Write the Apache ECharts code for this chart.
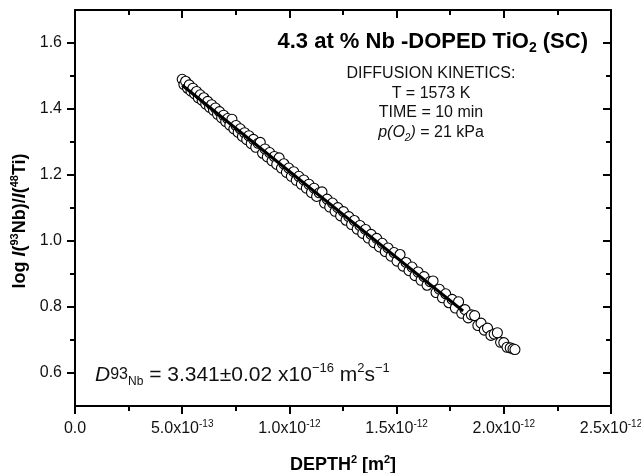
<!DOCTYPE html>
<html><head><meta charset="utf-8">
<script src="https://cdn.jsdelivr.net/npm/echarts@6/dist/echarts.min.js"></script>
<style>html,body{margin:0;padding:0;background:#fff}#c{width:641px;height:473px}</style>
</head><body><div id="c"></div>
<script>
// depth^2 in units of 1e-12 m^2
const depth2 = [0.500,0.508,0.516,0.525,0.533,0.541,0.550,0.558,0.567,0.575,0.584,0.593,0.601,0.610,0.619,0.628,0.637,
0.646,0.655,0.665,0.674,0.684,0.693,0.703,0.712,0.722,0.732,0.741,0.751,0.761,0.771,0.781,0.791,0.801,
0.811,0.822,0.832,0.843,0.854,0.864,0.875,0.886,0.897,0.908,0.919,0.930,0.941,0.952,0.963,0.974,0.986,0.997,
1.009,1.020,1.032,1.044,1.056,1.067,1.079,1.091,1.103,1.115,1.127,1.139,1.152,1.164,1.176,1.188,1.201,
1.213,1.226,1.239,1.252,1.264,1.277,1.290,1.303,1.316,1.329,1.342,1.355,1.368,1.381,1.394,1.407,1.420,1.433,
1.447,1.460,1.474,1.488,1.502,1.516,1.530,1.544,1.558,1.572,1.586,1.600,1.614,1.628,1.642,1.656,1.670,1.684,
1.699,1.714,1.729,1.744,1.759,1.774,1.789,1.804,1.819,1.834,1.849,1.864,1.879,1.894,1.909,1.924,1.940,1.955,
1.970,1.985,2.000,2.015,2.030,2.043,2.052];
const logRatio = [1.490,1.474,1.484,1.463,1.473,1.454,1.463,1.446,1.453,1.434,1.443,1.426,1.434,1.415,1.423,1.405,1.413,
1.396,1.403,1.384,1.392,1.373,1.381,1.362,1.371,1.351,1.369,1.340,1.350,1.329,1.340,1.317,1.328,1.307,
1.319,1.295,1.308,1.284,1.296,1.299,1.266,1.279,1.255,1.268,1.243,1.256,1.232,1.252,1.221,1.234,1.208,1.221,
1.196,1.210,1.184,1.196,1.172,1.185,1.160,1.172,1.147,1.160,1.135,1.146,1.149,1.115,1.127,1.103,1.115,
1.090,1.101,1.076,1.089,1.063,1.074,1.050,1.062,1.036,1.047,1.023,1.035,1.009,1.020,0.995,1.008,0.982,0.993,
0.968,0.979,0.954,0.965,0.939,0.959,0.924,0.935,0.910,0.921,0.895,0.906,0.881,0.892,0.866,0.877,0.879,0.844,
0.854,0.828,0.840,0.813,0.823,0.797,0.816,0.781,0.792,0.767,0.776,0.774,0.744,0.751,0.730,0.736,0.714,0.718,
0.722,0.693,0.692,0.678,0.676,0.673,0.671];
const fitDepth2 = [0.50, 1.81];
const fitLog = [1.472, 0.788];
const xTickValues = [0, 0.5, 1.0, 1.5, 2.0, 2.5];
const xTickMantissa = ['0.0','5.0x10','1.0x10','1.5x10','2.0x10','2.5x10'];
const xTickExponent = ['','-13','-12','-12','-12','-12'];
const yMajorTicks = [0.6,0.8,1.0,1.2,1.4,1.6];
const yMinorTicks = [0.7,0.9,1.1,1.3,1.5];

const FONT = 'Liberation Sans, Arial, sans-serif';
const chart = echarts.init(document.getElementById('c'));

const axisLineStyle = {color:'#000', width:2};
function xAxisCfg(pos){
  const top = pos === 'top';
  return {
    type:'value', position:pos, min:0, max:2.5, interval:0.5,
    axisLine:{show:true, onZero:false, lineStyle:axisLineStyle},
    axisTick:{show:true, inside:top, length:8, lineStyle:{color:'#000', width:2}},
    minorTick:{show:true, splitNumber:2, length:5, lineStyle:{color:'#000', width:2}},
    splitLine:{show:false}, minorSplitLine:{show:false},
    axisLabel: top ? {show:false} : {
      show:true, margin:13,
      formatter:function(v){
        const i = xTickValues.findIndex(t => Math.abs(t - v) < 1e-9);
        if (i < 0) return '';
        return xTickExponent[i] ? '{m|' + xTickMantissa[i] + '}{s|' + xTickExponent[i] + '}' : '{m|' + xTickMantissa[i] + '}';
      },
      rich:{
        m:{fontFamily:FONT, fontSize:16, lineHeight:20, color:'#111'},
        s:{fontFamily:FONT, fontSize:10, lineHeight:12, verticalAlign:'top', color:'#111'}
      }
    },
    name: top ? '' : '{b|DEPTH}{s|2}{b| [m}{s|2}{b|]}',
    nameLocation:'middle', nameGap:48,
    nameTextStyle:{rich:{
      b:{fontFamily:FONT, fontSize:18, fontWeight:'bold', lineHeight:22, color:'#000'},
      s:{fontFamily:FONT, fontSize:11, fontWeight:'bold', lineHeight:12, verticalAlign:'top', color:'#000'}
    }}
  };
}
function yAxisCfg(pos, ticks, len, showLine, showLabel){
  return {
    type:'value', position:pos, min:0.5, max:1.7, interval:0.1,
    axisLine:{show:showLine, onZero:false, lineStyle:axisLineStyle},
    axisTick:{show:true, inside:pos === 'right', length:len, customValues:ticks, lineStyle:{color:'#000', width:2}},
    splitLine:{show:false},
    axisLabel: showLabel ? {show:true, margin:13, customValues:yMajorTicks,
      formatter:function(v){ return v.toFixed(1); },
      fontFamily:FONT, fontSize:16, color:'#111'} : {show:false}
  };
}

const option = {
  backgroundColor:'#fff',
  animation:false,
  grid:{left:75, right:30, top:10, bottom:67, containLabel:false, outerBoundsMode:'none'},
  xAxis:[xAxisCfg('bottom'), xAxisCfg('top')],
  yAxis:[
    yAxisCfg('left', yMajorTicks, 8, true, true),
    yAxisCfg('left', yMinorTicks, 5, false, false),
    yAxisCfg('right', yMajorTicks, 8, true, false),
    yAxisCfg('right', yMinorTicks, 5, false, false)
  ],
  series:[
    {
      type:'scatter', xAxisIndex:0, yAxisIndex:0,
      data: depth2.map((x, i) => [x, logRatio[i]]),
      symbol:'circle', symbolSize:10,
      itemStyle:{color:'#fff', borderColor:'#000', borderWidth:1.1, opacity:1},
      z:2
    },
    {
      type:'line', xAxisIndex:0, yAxisIndex:0,
      data: fitDepth2.map((x, i) => [x, fitLog[i]]),
      showSymbol:false, symbol:'none',
      lineStyle:{color:'#000', width:3},
      z:3
    }
  ],
  graphic:[
    {type:'text', x:588, y:42, z:10, style:{
      text:'{b|4.3 at % Nb -DOPED TiO}{s|2}{b| (SC)}',
      align:'right', verticalAlign:'middle',
      rich:{
        b:{fontFamily:FONT, fontSize:22, fontWeight:'bold', lineHeight:26, fill:'#000', color:'#000'},
        s:{fontFamily:FONT, fontSize:14, fontWeight:'bold', lineHeight:8, verticalAlign:'bottom', fill:'#000', color:'#000'}
      }
    }},
    {type:'text', x:431, y:74, z:10, style:{text:'DIFFUSION KINETICS:', align:'center', verticalAlign:'middle', font:'16px ' + FONT, fill:'#111'}},
    {type:'text', x:431, y:94, z:10, style:{text:'T = 1573 K', align:'center', verticalAlign:'middle', font:'16px ' + FONT, fill:'#111'}},
    {type:'text', x:431, y:113, z:10, style:{text:'TIME = 10 min', align:'center', verticalAlign:'middle', font:'16px ' + FONT, fill:'#111'}},
    {type:'text', x:431, y:133, z:10, style:{
      text:'{i|p(O}{s|2}{i|)}{n| = 21 kPa}',
      align:'center', verticalAlign:'middle',
      rich:{
        i:{fontFamily:FONT, fontSize:16, fontStyle:'italic', lineHeight:20, fill:'#111', color:'#111'},
        n:{fontFamily:FONT, fontSize:16, lineHeight:20, fill:'#111', color:'#111'},
        s:{fontFamily:FONT, fontSize:10, fontStyle:'italic', lineHeight:10, verticalAlign:'bottom', fill:'#111', color:'#111'}
      }
    }},
    {type:'text', x:95, y:375, z:10, style:{
      text:'{d|D}{n|93}{sub|Nb}{m| = 3.341\u00b10.02 x10}{sup|\u221216}{m| m}{sup|2}{m|s}{sup|\u22121}',
      align:'left', verticalAlign:'middle',
      rich:{
        d:{fontFamily:FONT, fontSize:21, fontStyle:'italic', lineHeight:26, fill:'#111', color:'#111'},
        n:{fontFamily:FONT, fontSize:16, lineHeight:26, fill:'#111', color:'#111'},
        sub:{fontFamily:FONT, fontSize:12, lineHeight:17, verticalAlign:'bottom', fill:'#111', color:'#111'},
        m:{fontFamily:FONT, fontSize:21, lineHeight:26, fill:'#111', color:'#111'},
        sup:{fontFamily:FONT, fontSize:13, lineHeight:12, verticalAlign:'top', fill:'#111', color:'#111'}
      }
    }},
    {type:'text', x:20, y:221, rotation:Math.PI/2, z:10, style:{
      text:'{b|log }{i|I}{b|(}{s|93}{b|Nb)/}{i|I}{b|(}{s|48}{b|Ti)}',
      align:'center', verticalAlign:'middle',
      rich:{
        b:{fontFamily:FONT, fontSize:18, fontWeight:'bold', lineHeight:22, fill:'#000', color:'#000'},
        i:{fontFamily:FONT, fontSize:18, fontWeight:'bold', fontStyle:'italic', lineHeight:22, fill:'#000', color:'#000'},
        s:{fontFamily:FONT, fontSize:11, fontWeight:'bold', lineHeight:12, verticalAlign:'top', fill:'#000', color:'#000'}
      }
    }}
  ]
};
chart.setOption(option);
</script></body></html>
